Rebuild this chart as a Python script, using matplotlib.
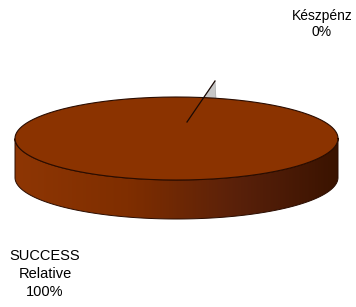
import numpy as np
import matplotlib
matplotlib.use("Agg")
import matplotlib.pyplot as plt
from matplotlib.patches import Polygon
from matplotlib.colors import LinearSegmentedColormap

categories = ["SUCCESS\nRelative", "Készpénz"]
values = [100.0, 0.0]
colors = ["#8B3300", "#C8C8C8"]

plt.rcParams['font.family'] = ['Liberation Sans', 'DejaVu Sans']

fig = plt.figure(figsize=(3.56, 3.07), dpi=100)
ax = fig.add_axes([0, 0, 1, 1])
ax.set_xlim(0, 356)
ax.set_ylim(307, 0)
ax.axis('off')

cx, cy, a, b, depth = 176.5, 138.5, 161.5, 41.5, 39.0

# side wall with gradient
t = np.linspace(0, np.pi, 300)
upper = np.column_stack([cx + a * np.cos(t), cy + b * np.sin(t)])
lower = upper[::-1] + np.array([0, depth])
side = np.vstack([upper, lower])
side_patch = Polygon(side, closed=True, facecolor='none', edgecolor='#2a0c00', lw=0.7, zorder=2)
ax.add_patch(side_patch)
cmap = LinearSegmentedColormap.from_list('side', [(0.0, '#8E3604'), (0.35, '#7F2E00'), (0.7, '#58200A'), (1.0, '#3A1300')])
grad = np.linspace(0, 1, 256).reshape(1, -1)
im = ax.imshow(grad, cmap=cmap, extent=[cx - a, cx + a, cy + b + depth, cy], aspect='auto', zorder=1)
im.set_clip_path(side_patch)

# top face wedges from data
total = sum(values)
start = 80.0
fracs = [v / total for v in values]
angles = []
ang = start
for f in fracs:
    angles.append((ang, ang + 360 * f))
    ang += 360 * f

for (a0, a1), col in zip(angles, colors):
    if a1 - a0 <= 0:
        continue
    tt = np.radians(np.linspace(a0, a1, max(3, int(abs(a1 - a0)) + 2)))
    pts = np.column_stack([cx + a * np.cos(tt), cy - b * np.sin(tt)])
    pts = np.vstack([[cx, cy], pts])
    ax.add_patch(Polygon(pts, closed=True, facecolor=col, edgecolor='none', zorder=3))

tt = np.linspace(0, 2 * np.pi, 400)
ax.plot(cx + a * np.cos(tt), cy - b * np.sin(tt), color='#2a0c00', lw=0.8, zorder=4)

# small (0%) slice: gray sliver with leader line
anchor = (187.0, 122.0)
apex = (215.0, 81.0)
rim_y = cy - b * np.sqrt(max(0.0, 1 - ((apex[0] - cx) / a) ** 2))
frac_l = (rim_y - anchor[1]) / (apex[1] - anchor[1])
line_x = anchor[0] + frac_l * (apex[0] - anchor[0])
ax.add_patch(Polygon([apex, (apex[0] + 1, rim_y), (line_x, rim_y)], closed=True,
                     facecolor=colors[1], edgecolor='#a0a0a0', lw=0.4, zorder=2.5))
ax.plot([anchor[0], apex[0]], [anchor[1], apex[1]], color='#1a0a05', lw=0.9, zorder=5)

# labels
pct = [round(f * 100) for f in fracs]
ax.text(45, 274, f"{categories[0]}\n{pct[0]}%", ha='center', va='center', fontsize=10.5,
        linespacing=1.35, color='#000000')
ax.text(322, 24, f"{categories[1]}\n{pct[1]}%", ha='center', va='center', fontsize=10,
        linespacing=1.2, color='#000000')

fig.savefig('out.png', dpi=100)
